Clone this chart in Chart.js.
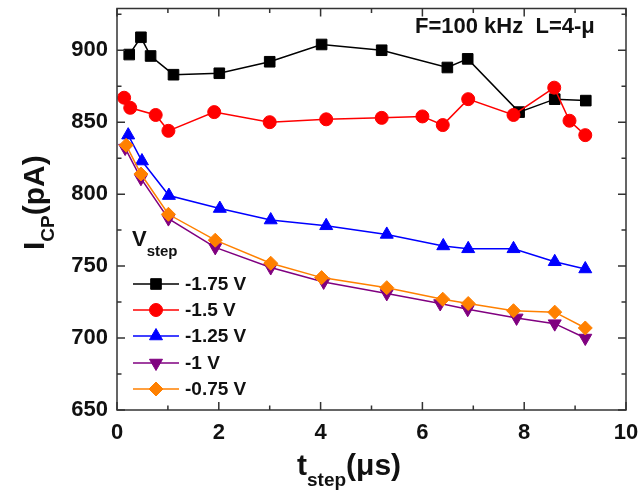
<!DOCTYPE html>
<html>
<head>
<meta charset="utf-8">
<script src="https://cdn.jsdelivr.net/npm/chart.js@4.4.1/dist/chart.umd.min.js"></script>
<style>
  html, body { margin: 0; padding: 0; background: #fff; }
  #wrap { width: 640px; height: 492px; }
</style>
</head>
<body>
<div id="wrap"><canvas id="chart" width="640" height="492"></canvas></div>
<script>
// series (t in µs, I in pA)
const seriesLabels = ['-1.75 V', '-1.5 V', '-1.25 V', '-1 V', '-0.75 V'];
const seriesColors = ['#000000', '#ff0000', '#0000ff', '#800080', '#ff8000'];
const seriesStyles = ['rect', 'circle', 'triangle', 'triangle', 'rectRot'];
const seriesRotation = [0, 0, 0, 180, 0];
const seriesRadius = [7.5, 6.5, 7.5, 7.5, 7];

const t175 = [0.24, 0.47, 0.66, 1.11, 2.01, 3.0, 4.02, 5.2, 6.49, 6.89, 7.9, 8.6, 9.21];
const i175 = [897, 909, 896, 883, 884, 892, 904, 900, 888, 894, 857, 866, 865];

const t150 = [0.14, 0.26, 0.76, 1.01, 1.91, 3.0, 4.11, 5.2, 6.0, 6.4, 6.9, 7.79, 8.59, 8.89, 9.2];
const i150 = [867, 860, 855, 844, 857, 850, 852, 853, 854, 848, 866, 855, 874, 851, 841];

const t125 = [0.22, 0.49, 1.02, 2.02, 3.02, 4.11, 5.3, 6.41, 6.9, 7.79, 8.6, 9.2];
const i125 = [841, 823, 799, 790, 782, 778, 772, 764, 762, 762, 753, 748];

const t100 = [0.16, 0.47, 1.01, 1.93, 3.02, 4.06, 5.3, 6.35, 6.89, 7.85, 8.6, 9.2];
const i100 = [832, 811, 783, 763, 749, 739, 731, 724, 720, 714, 710, 700];

const t075 = [0.18, 0.47, 1.01, 1.93, 3.02, 4.02, 5.3, 6.4, 6.9, 7.79, 8.6, 9.2];
const i075 = [834, 814, 786, 768, 752, 742, 735, 727, 724, 719, 718, 707];

const seriesT = [t175, t150, t125, t100, t075];
const seriesI = [i175, i150, i125, i100, i075];

const xMin = 0, xMax = 10, xStep = 2;
const yMin = 650, yMax = 929, yStep = 50;

const FONT = '"Liberation Sans", Arial, sans-serif';

const datasets = seriesLabels.map((label, k) => ({
  label,
  data: seriesT[k].map((t, j) => ({ x: t, y: seriesI[k][j] })),
  showLine: true,
  borderColor: seriesColors[k],
  backgroundColor: seriesColors[k],
  borderWidth: 1.5,
  pointStyle: seriesStyles[k],
  rotation: seriesRotation[k],
  pointRadius: seriesRadius[k],
  pointBorderWidth: 1,
  pointBorderColor: seriesColors[k],
  pointBackgroundColor: seriesColors[k],
  order: seriesLabels.length - k
}));

function drawSub(ctx, parts, x, y) {
  // parts: [text, size, dy]
  let cx = x;
  parts.forEach(([txt, size, dy]) => {
    ctx.font = 'bold ' + size + 'px ' + FONT;
    ctx.fillText(txt, cx, y + dy);
    cx += ctx.measureText(txt).width;
  });
}

const framePlugin = {
  id: 'frame',
  afterDraw(chart) {
    const { ctx, chartArea: a, scales: { x, y } } = chart;
    ctx.save();
    ctx.strokeStyle = '#333';
    ctx.lineWidth = 1.5;
    ctx.strokeRect(a.left, a.top, a.right - a.left, a.bottom - a.top);

    // inward ticks on all four sides
    ctx.beginPath();
    for (let v = xMin; v <= xMax; v += 1) {
      const px = x.getPixelForValue(v);
      const len = v % 2 === 0 ? 8 : 4.5;
      ctx.moveTo(px, a.bottom); ctx.lineTo(px, a.bottom - len);
      ctx.moveTo(px, a.top); ctx.lineTo(px, a.top + len);
    }
    for (let v = yMin; v <= yMax; v += 25) {
      const py = y.getPixelForValue(v);
      const len = v % 50 === 0 ? 8 : 4.5;
      ctx.moveTo(a.left, py); ctx.lineTo(a.left + len, py);
      ctx.moveTo(a.right, py); ctx.lineTo(a.right - len, py);
    }
    ctx.stroke();

    ctx.fillStyle = '#111';
    ctx.textBaseline = 'alphabetic';
    ctx.textAlign = 'left';

    // x title
    drawSub(ctx, [['t', 30, 0], ['step', 19, 11], ['(\u03bcs)', 30, 0]], 297, 475);

    // y title
    ctx.save();
    ctx.translate(44, 250);
    ctx.rotate(-Math.PI / 2);
    drawSub(ctx, [['I', 30, 0], ['CP', 19, 10], ['(pA)', 30, 0]], 0, 0);
    ctx.restore();

    // annotation
    drawSub(ctx, [['F=100 kHz  L=4-\u03bc', 22, 0]], 415, 33);

    // legend
    drawSub(ctx, [['V', 22, 0], ['step', 15, 10]], 132, 246);
    const rowY = [284, 310, 336, 363, 389];
    seriesLabels.forEach((label, k) => {
      const cy = rowY[k];
      ctx.strokeStyle = seriesColors[k];
      ctx.fillStyle = seriesColors[k];
      ctx.lineWidth = 1.5;
      ctx.beginPath();
      ctx.moveTo(133, cy); ctx.lineTo(179, cy);
      ctx.stroke();
      if (Chart.helpers && Chart.helpers.drawPoint) {
        ctx.lineWidth = 1;
        Chart.helpers.drawPoint(ctx, {
          pointStyle: seriesStyles[k],
          rotation: seriesRotation[k],
          radius: seriesRadius[k],
          borderWidth: 1
        }, 156, cy);
      }
      ctx.fillStyle = '#111';
      ctx.font = 'bold 19px ' + FONT;
      ctx.textBaseline = 'middle';
      ctx.fillText(label, 185, cy + 1);
      ctx.textBaseline = 'alphabetic';
    });
    ctx.restore();
  }
};

new Chart(document.getElementById('chart'), {
  type: 'scatter',
  data: { datasets },
  plugins: [framePlugin],
  options: {
    responsive: false,
    animation: false,
    devicePixelRatio: 1,
    layout: { padding: { left: 0, right: 14, top: 4, bottom: 0 } },
    plugins: { legend: { display: false }, tooltip: { enabled: false } },
    scales: {
      x: {
        type: 'linear',
        min: xMin, max: xMax,
        afterFit: s => { s.height = 82; s.paddingLeft = 0; s.paddingRight = 0; },
        grid: { display: false, drawTicks: false },
        border: { display: false },
        ticks: {
          stepSize: xStep, includeBounds: false, autoSkip: false, maxRotation: 0,
          padding: 10, color: '#111',
          font: { family: FONT, size: 22, weight: 'bold' }
        }
      },
      y: {
        type: 'linear',
        min: yMin, max: yMax,
        afterFit: s => { s.width = 117; s.paddingTop = 0; s.paddingBottom = 0; },
        grid: { display: false, drawTicks: false },
        border: { display: false },
        ticks: {
          stepSize: yStep, includeBounds: false, autoSkip: false,
          padding: 9, color: '#111',
          font: { family: FONT, size: 22, weight: 'bold' }
        }
      }
    }
  }
});
</script>
</body>
</html>
